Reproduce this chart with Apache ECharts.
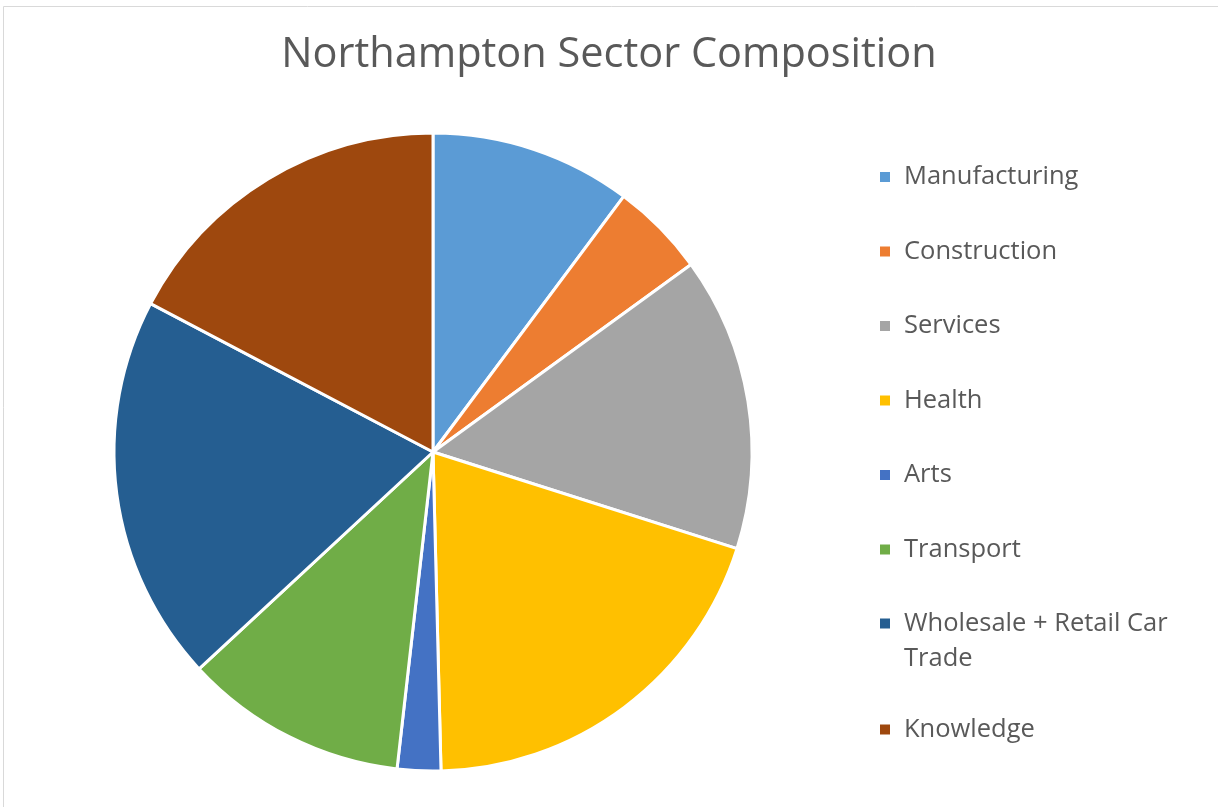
<!DOCTYPE html>
<html>
<head>
<meta charset="utf-8">
<script src="https://cdn.jsdelivr.net/npm/echarts@6/dist/echarts.min.js"></script>
<style>
  html, body { margin: 0; padding: 0; background: #fff; }
  #pie-chart { width: 1218px; height: 807px; }
</style>
</head>
<body>
<div id="pie-chart"></div>
<script>
const sectors = ['Manufacturing', 'Construction', 'Services', 'Health', 'Arts', 'Transport', 'Wholesale + Retail Car Trade', 'Knowledge'];
const shares = [10.2, 4.8, 14.9, 19.7, 2.2, 11.3, 19.6, 17.3];
const colors = ['#5B9BD5', '#ED7D31', '#A5A5A5', '#FFC000', '#4472C4', '#70AD47', '#255E91', '#9E480E'];

const pieChart = echarts.init(document.getElementById('pie-chart'));

const legendText = {
    fontFamily: 'Open Sans',
    fontSize: 25.5,
    color: '#595959',
    lineHeight: 35,
    padding: [0, 0, 0, 8]
};

pieChart.setOption({
    color: colors,
    title: {
        text: 'Northampton Sector Composition',
        left: 'center',
        top: 29,
        textStyle: {
            fontFamily: 'Open Sans',
            fontWeight: 'normal',
            fontSize: 41.5,
            color: '#595959'
        }
    },
    graphic: [
        {
            type: 'rect',
            shape: { x: 3.5, y: 6.5, width: 1240, height: 830 },
            style: { fill: 'none', stroke: '#d9d9d9', lineWidth: 1 },
            silent: true
        }
    ],
    legend: [
        {
            orient: 'vertical',
            left: 878,
            top: 159.5,
            padding: 0,
            itemWidth: 12,
            itemHeight: 12,
            itemGap: 39.5,
            icon: 'rect',
            selectedMode: false,
            textStyle: legendText,
            data: sectors.slice(0, 6)
        },
        {
            orient: 'vertical',
            left: 878,
            top: 571,
            padding: 0,
            itemWidth: 12,
            itemHeight: 12,
            itemGap: 36,
            icon: 'rect',
            selectedMode: false,
            textStyle: legendText,
            // blank first line keeps the marker level with the first text line
            formatter: function (name) {
                return name === 'Wholesale + Retail Car Trade' ? ' \nWholesale + Retail Car\nTrade' : name;
            },
            data: sectors.slice(6)
        }
    ],
    series: [
        {
            type: 'pie',
            center: [433, 452],
            radius: [0, 319],
            startAngle: 90,
            clockwise: true,
            label: { show: false },
            labelLine: { show: false },
            emphasis: { disabled: true },
            itemStyle: { borderColor: '#fff', borderWidth: 3 },
            data: sectors.map((name, i) => ({ name: name, value: shares[i] }))
        }
    ]
});
</script>
</body>
</html>
